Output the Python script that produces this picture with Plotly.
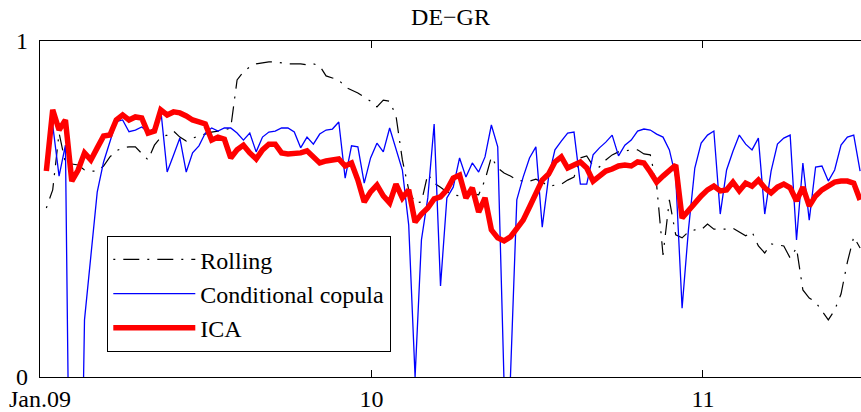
import pandas as pd
import plotly.graph_objects as go

# weekly observation dates (Jan 2009 - Jun 2011)
dates = pd.date_range(start="2009-01-08", periods=129, freq="7D")

rolling = [0.503, 0.557, 0.726, 0.637, 0.634, 0.631, 0.616, 0.613, 0.613, 0.628,
           0.655, 0.673, 0.682, 0.685, 0.685, 0.667, 0.646, 0.690, 0.714, 0.720,
           0.732, 0.714, 0.702, 0.711, 0.717, 0.723, 0.729, 0.732, 0.735, 0.741,
           0.884, 0.908, 0.923, 0.932, 0.935, 0.938, 0.938, 0.935, 0.932, 0.932,
           0.932, 0.929, 0.932, 0.926, 0.896, 0.890, 0.884, 0.863, 0.854, 0.845,
           0.833, 0.821, 0.804, 0.824, 0.821, 0.777, 0.646, 0.557, 0.518, 0.521,
           0.604, 0.577, 0.565, 0.551, 0.542, 0.539, 0.542, 0.545, 0.542, 0.586,
           0.655, 0.622, 0.607, 0.598, 0.586, 0.583, 0.583, 0.589, 0.580, 0.568,
           0.571, 0.574, 0.586, 0.595, 0.652, 0.658, 0.628, 0.625, 0.646, 0.661,
           0.670, 0.673, 0.676, 0.676, 0.664, 0.661, 0.571, 0.363, 0.527, 0.423,
           0.414, 0.432, 0.438, 0.438, 0.455, 0.440, 0.440, 0.440, 0.443, 0.432,
           0.420, 0.432, 0.390, 0.369, 0.396, 0.393, 0.390, 0.354, 0.384, 0.259,
           0.235, 0.223, 0.196, 0.170, 0.199, 0.247, 0.342, 0.417, 0.384]

cond_copula = [0.620, 0.750, 0.598, 0.690, -1.0, -1.0, 0.170, 0.360, 0.550, 0.640,
               0.700, 0.760, 0.765, 0.730, 0.735, 0.744, 0.729, 0.740, 0.795, 0.610,
               0.660, 0.711, 0.610, 0.667, 0.688, 0.726, 0.741, 0.732, 0.741, 0.741,
               0.726, 0.705, 0.726, 0.670, 0.714, 0.729, 0.732, 0.741, 0.741, 0.729,
               0.682, 0.714, 0.693, 0.723, 0.735, 0.738, 0.759, 0.592, 0.688, 0.685,
               0.577, 0.652, 0.696, 0.670, 0.741, 0.682, 0.616, 0.452, 0.000, 0.408,
               0.533, 0.753, 0.271, 0.533, 0.565, 0.652, 0.595, 0.637, 0.610, 0.655,
               0.750, 0.685, -0.020, 0.000, 0.527, 0.595, 0.652, 0.685, 0.446, 0.595,
               0.676, 0.702, 0.726, 0.729, 0.574, 0.574, 0.661, 0.682, 0.699, 0.720,
               0.658, 0.690, 0.705, 0.732, 0.738, 0.735, 0.723, 0.714, 0.676, 0.595,
               0.205, 0.438, 0.622, 0.696, 0.720, 0.732, 0.485, 0.616, 0.672, 0.720,
               0.693, 0.676, 0.711, 0.485, 0.613, 0.693, 0.711, 0.720, 0.408, 0.637,
               0.467, 0.625, 0.628, 0.583, 0.616, 0.690, 0.714, 0.720, 0.613]

ica = [0.613, 0.795, 0.735, 0.765, 0.583, 0.616, 0.667, 0.646, 0.682, 0.717,
       0.720, 0.765, 0.780, 0.765, 0.774, 0.771, 0.726, 0.732, 0.795, 0.780,
       0.789, 0.786, 0.777, 0.765, 0.759, 0.753, 0.705, 0.714, 0.708, 0.652,
       0.676, 0.690, 0.667, 0.649, 0.676, 0.693, 0.693, 0.667, 0.664, 0.664,
       0.667, 0.673, 0.652, 0.637, 0.643, 0.646, 0.649, 0.628, 0.637, 0.586,
       0.521, 0.551, 0.571, 0.539, 0.518, 0.574, 0.533, 0.557, 0.461, 0.485,
       0.503, 0.530, 0.536, 0.557, 0.592, 0.601, 0.533, 0.563, 0.491, 0.533,
       0.438, 0.414, 0.405, 0.417, 0.440, 0.467, 0.506, 0.548, 0.586, 0.604,
       0.640, 0.655, 0.622, 0.631, 0.640, 0.622, 0.583, 0.598, 0.613, 0.619,
       0.628, 0.631, 0.628, 0.640, 0.637, 0.610, 0.580, 0.598, 0.616, 0.631,
       0.473, 0.497, 0.521, 0.539, 0.557, 0.568, 0.554, 0.557, 0.580, 0.554,
       0.577, 0.568, 0.586, 0.563, 0.548, 0.565, 0.574, 0.563, 0.524, 0.565,
       0.509, 0.539, 0.557, 0.571, 0.580, 0.583, 0.583, 0.577, 0.527]

x_tickvals = ["2009-01-01", "2010-01-01", "2011-01-01"]
x_ticktext = ["Jan.09", "10", "11"]
y_tickvals = [0, 1]
y_ticktext = ["0", "1"]

FONT = "Liberation Serif, Times New Roman, serif"

fig = go.Figure()
fig.add_trace(go.Scatter(x=dates, y=rolling, mode="lines", name="Rolling",
                         line=dict(color="black", width=1.2, dash="2px,8px,16px,8px"),
                         legendgroup="a"))
fig.add_trace(go.Scatter(x=dates, y=cond_copula, mode="lines", name="Conditional copula",
                         line=dict(color="#0000ff", width=1.3), legendgroup="b"))
fig.add_trace(go.Scatter(x=dates, y=ica, mode="lines", name="ICA",
                         line=dict(color="#ff0000", width=5.5), legendgroup="c"))

fig.update_layout(
    width=861, height=412,
    margin=dict(l=40, r=0, t=41, b=35),
    paper_bgcolor="white", plot_bgcolor="white",
    font=dict(family=FONT, size=24, color="black"),
    title=dict(text="DE\u2212GR", x=0.5, xref="paper", y=(412 - 17) / 412,
               yref="container", yanchor="middle", xanchor="center",
               font=dict(family=FONT, size=24, color="black")),
    showlegend=True,
    legend=dict(x=(107 - 40) / 821, y=(377 - 236) / 336, xanchor="left", yanchor="top",
                bgcolor="white", bordercolor="black", borderwidth=1.3,
                font=dict(family=FONT, size=24, color="black"),
                tracegroupgap=3, itemwidth=82, traceorder="normal"),
    xaxis=dict(type="date", range=["2009-01-01", "2011-06-24"],
               tickmode="array", tickvals=x_tickvals, ticktext=x_ticktext,
               ticks="inside", ticklen=7, tickwidth=1, tickcolor="black",
               showline=True, linecolor="black", linewidth=1.3, mirror="ticks",
               showgrid=False, zeroline=False,
               tickfont=dict(family=FONT, size=24, color="black")),
    yaxis=dict(range=[0, 1], tickmode="array", tickvals=y_tickvals, ticktext=y_ticktext,
               ticks="inside", ticklen=7, tickwidth=1, tickcolor="black",
               showline=True, linecolor="black", linewidth=1.3, mirror="ticks",
               showgrid=False, zeroline=False, ticklabelstandoff=6,
               tickfont=dict(family=FONT, size=24, color="black")),
)

fig.write_html("out.html")
